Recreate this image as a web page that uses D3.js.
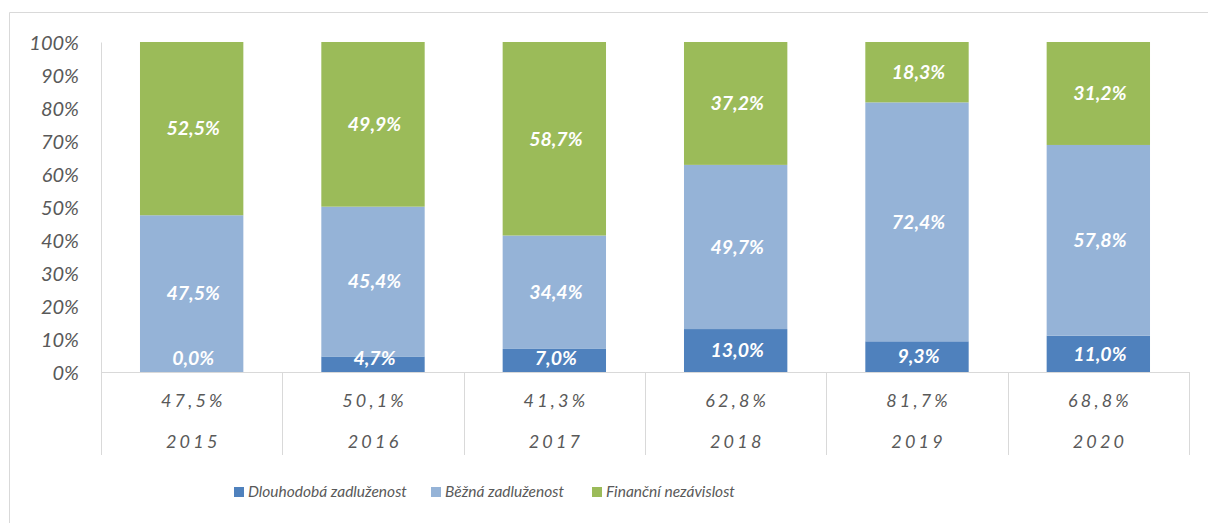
<!DOCTYPE html>
<html><head><meta charset="utf-8">
<script src="https://cdn.jsdelivr.net/npm/d3@7"></script>
<style>
html,body{margin:0;padding:0;background:#fff;}
svg{display:block;}
text{font-family:Lato, "Open Sans", sans-serif;}
</style></head>
<body>
<svg id="chart" width="1208" height="523"></svg>
<script>
const years = ["2015","2016","2017","2018","2019","2020"];
const totals = ["47,5%","50,1%","41,3%","62,8%","81,7%","68,8%"];
const dlouhodoba = [0.0, 4.7, 7.0, 13.0, 9.3, 11.0];
const bezna = [47.5, 45.4, 34.4, 49.7, 72.4, 57.8];
const financni = [52.5, 49.9, 58.7, 37.2, 18.3, 31.2];
const seriesNames = ["Dlouhodobá zadluženost","Běžná zadluženost","Finanční nezávislost"];
const yTicks = [0,0.1,0.2,0.3,0.4,0.5,0.6,0.7,0.8,0.9,1.0];

const colors = ["#4F81BD","#95B3D7","#9BBB59"];
const keys = ["d","b","f"];
const rows = years.map((y,i)=>({year:y,total:totals[i],d:dlouhodoba[i],b:bezna[i],f:financni[i]}));

const svg = d3.select("#chart");
const W=1208,H=523;
const L=101,R=1189,T=42,B=372;

// outer border
svg.append("path").attr("d",`M9.5,${H} V12.5 H${W}`).attr("fill","none").attr("stroke","#d9d9d9").attr("stroke-width",1);

const x = d3.scaleBand().domain(years).range([L,R]).paddingInner(0.43).paddingOuter(0.215);
const y = d3.scaleLinear().domain([0,1]).range([B,T]);

const stack = d3.stack().keys(keys).offset(d3.stackOffsetExpand);
const stacked = stack(rows);

const fmt = v => d3.format(".1f")(v).replace(".",",")+"%";

// bars
stacked.forEach((s,si)=>{
  svg.append("g").selectAll("rect").data(s).join("rect")
    .attr("x",d=>x(d.data.year))
    .attr("width",x.bandwidth())
    .attr("y",d=>y(d[1]))
    .attr("height",d=>y(d[0])-y(d[1]))
    .attr("fill",colors[si]);
});

// y axis
const yAxis = d3.axisLeft(y).tickValues(yTicks).tickFormat(d=>Math.round(d*100)+"%").tickSize(0).tickPadding(22);
const gy = svg.append("g").attr("transform",`translate(${L},0)`).call(yAxis);
gy.select(".domain").attr("stroke","#d9d9d9");
gy.selectAll("text").attr("fill","#595959").style("font-size","20px").style("font-style","italic").attr("dy","0.35em");

// x axis line
svg.append("line").attr("x1",L).attr("x2",R).attr("y1",B+0.5).attr("y2",B+0.5).attr("stroke","#d9d9d9");
const step = x.step();
d3.range(years.length+1).forEach(i=>{
  const xx = Math.round(L + i*step)+0.5;
  svg.append("line").attr("x1",xx).attr("x2",xx).attr("y1",B).attr("y2",455).attr("stroke","#d9d9d9");
});

// category labels (two levels)
const cx = d => x(d)+x.bandwidth()/2;
const ls = 3.2;
svg.append("g").selectAll("text").data(rows).join("text")
  .attr("x",d=>cx(d.year)+ls/2).attr("y",401).attr("dy","0.35em")
  .attr("text-anchor","middle").attr("fill","#595959")
  .style("font-size","18px").style("font-style","italic").style("letter-spacing",ls+"px")
  .text(d=>d.total);
svg.append("g").selectAll("text").data(rows).join("text")
  .attr("x",d=>cx(d.year)+ls/2).attr("y",442).attr("dy","0.35em")
  .attr("text-anchor","middle").attr("fill","#595959")
  .style("font-size","18px").style("font-style","italic").style("letter-spacing",ls+"px")
  .text(d=>d.year);

// data labels
stacked.forEach((s,si)=>{
  svg.append("g").selectAll("text").data(s).join("text")
    .attr("x",d=>cx(d.data.year)+1.5)
    .attr("y",d=>{
      const c=(y(d[0])+y(d[1]))/2;
      return Math.min(c, B-14);
    })
    .attr("dy","0.35em")
    .attr("text-anchor","middle").attr("fill","#fff")
    .style("font-size","19.5px").style("font-style","italic").style("font-weight","bold")
    .text(d=>fmt(d.data[keys[si]]));
});

// legend
const legX=[234,431,592];
const lg = svg.append("g");
seriesNames.forEach((n,i)=>{
  lg.append("rect").attr("x",legX[i]).attr("y",487).attr("width",10).attr("height",10).attr("fill",colors[i]);
  lg.append("text").attr("x",legX[i]+14).attr("y",492).attr("dy","0.35em")
    .attr("fill","#595959").style("font-size","15.5px").style("font-style","italic").text(n);
});
</script>
</body></html>
